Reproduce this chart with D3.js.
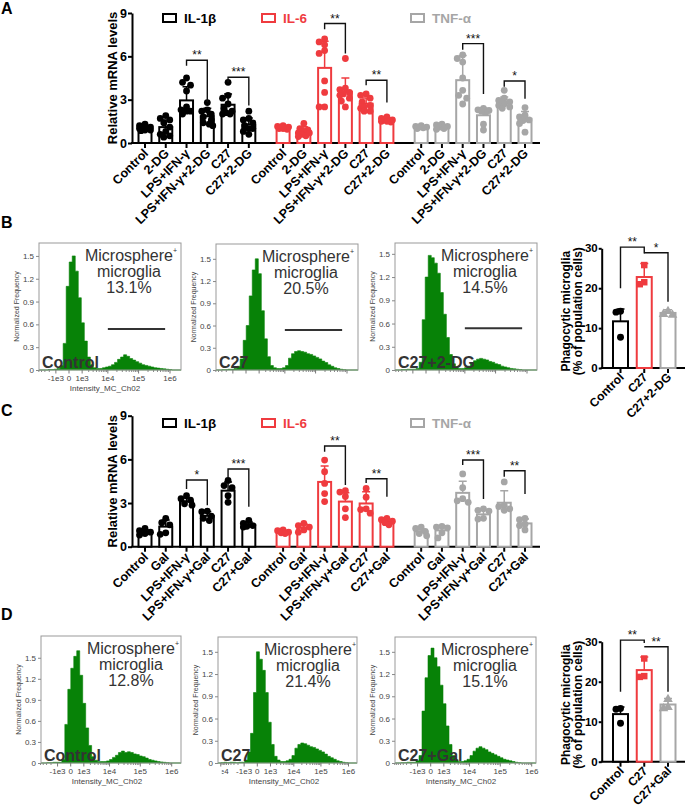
<!DOCTYPE html>
<html><head><meta charset="utf-8">
<script src="https://cdn.jsdelivr.net/npm/d3@7"></script>
<style>body{margin:0;background:#fff}svg{display:block}text{font-family:"Liberation Sans",Arial,Helvetica,sans-serif}</style>
</head><body><svg id="c" width="685" height="807"></svg>
<script>
// ---------------- DATA ----------------
const genes = ["IL-1β","IL-6","TNF-α"];
const catsA = ["Control","2-DG","LPS+IFN-γ","LPS+IFN-γ+2-DG","C27","C27+2-DG"];
const catsC = ["Control","Gal","LPS+IFN-γ","LPS+IFN-γ+Gal","C27","C27+Gal"];
const exprTicks = [0,3,6,9];

// Panel A
const aIL1bMean=[1.0,1.1,2.95,1.85,2.65,1.28];
const aIL1bSD=[0.15,0.5,0.95,0.55,0.75,0.45];
const aIL1bPts=[[1.3,1.2,1.1,1.0,1.0,0.9,0.9,0.85,1.05],[1.9,1.7,1.6,1.4,1.1,0.8,0.6,0.5,0.4],[4.5,4.2,4.0,3.6,2.5,2.3,2.2,2.0,2.2],[2.8,2.3,2.2,2.0,1.8,1.6,1.4,1.2,1.3],[4.2,3.3,3.1,2.7,2.4,2.2,2.0,2.1,2.0],[2.2,1.7,1.6,1.4,1.2,1.0,0.8,0.6,1.0]];
const aIL1bSig=[[2,3,"**",5.73,5.35,2.85],[4,5,"***",4.55,4.2,2.6]];
const aIL6Mean=[1.05,0.78,5.2,3.55,2.72,1.58];
const aIL6SD=[0.12,0.35,1.85,0.95,0.4,0.12];
const aIL6Pts=[[1.2,1.15,1.1,1.05,1.0,0.95,1.0,1.1],[1.35,1.0,0.9,0.8,0.7,0.6,0.5,0.45,0.7],[7.2,7.0,6.8,6.4,6.2,4.3,3.5,2.5,2.5],[5.85,3.8,3.7,3.4,3.1,2.9,2.5,3.3,3.5],[3.4,3.3,3.1,2.85,2.6,2.4,2.2,2.5,2.2],[1.8,1.7,1.6,1.55,1.5,1.45,1.6,1.5]];
const aIL6Sig=[[2,3,"**",8.27,7.87,6.2],[4,5,"**",4.34,4.0,2.8]];
const aTNFMean=[1.1,1.12,4.35,1.92,2.84,1.68];
const aTNFSD=[0.1,0.15,1.7,0.5,0.35,0.5];
const aTNFPts=[[1.2,1.15,1.1,1.05,1.0,1.1],[1.3,1.25,1.15,1.1,1.0,0.95],[6.1,5.85,5.6,4.5,3.65,3.1,2.7,3.3],[2.4,2.3,2.25,2.1,1.3,0.9,2.2],[3.65,3.1,2.95,2.85,2.7,2.6,2.5,2.4],[2.45,1.92,1.8,1.6,1.55,1.35,0.75]];
const aTNFSig=[[2,3,"***",6.88,6.45,3.4],[4,5,"*",4.29,3.9,3.07]];

// Panel C
const cIL1bMean=[1.0,1.38,3.1,2.12,3.85,1.5];
const cIL1bSD=[0.15,0.45,0.25,0.3,0.6,0.2];
const cIL1bPts=[[1.25,1.1,1.0,0.9,0.8],[1.95,1.65,1.5,0.85,0.95],[3.5,3.3,3.2,2.95,2.85],[2.45,2.4,2.1,1.95,1.8],[4.55,4.2,4.05,3.5,3.05],[1.8,1.6,1.45,1.4,1.35]];
const cIL1bSig=[[2,3,"*",4.58,3.96,2.85],[4,5,"***",5.34,4.72,2.75]];
const cIL6Mean=[1.02,1.3,4.45,3.1,2.97,1.72];
const cIL6SD=[0.1,0.25,1.1,0.6,0.8,0.12];
const cIL6Pts=[[1.15,1.1,1.0,0.95,0.9],[1.6,1.45,1.35,1.15,1.0],[5.95,5.15,4.35,3.65,3.1],[3.85,3.75,3.45,2.6,2.0],[4.0,3.4,2.6,2.55,2.3],[1.95,1.85,1.75,1.65,1.5]];
const cIL6Sig=[[2,3,"**",6.92,6.53,4.24],[4,5,"**",4.67,4.38,3.44]];
const cTNFMean=[1.05,1.12,3.7,2.22,3.02,1.6];
const cTNFSD=[0.15,0.3,0.8,0.3,0.82,0.3];
const cTNFPts=[[1.35,1.25,1.05,0.9,0.75],[1.4,1.35,1.3,0.95,0.6],[5.0,4.05,3.3,3.15,3.05],[2.6,2.5,2.45,1.95,1.9],[4.45,2.85,2.75,2.6,2.5],[1.95,1.85,1.55,1.45,1.15]];
const cTNFSig=[[2,3,"***",5.96,5.61,3.28],[4,5,"**",5.22,4.81,3.62]];

// Phagocytosis bar charts (B, D)
const phagoTicks=[0,10,20,30];
const bCats=["Control","C27","C27+2-DG"];
const bMean=[11.7,22.8,13.8];
const bSD=[3.1,3.4,0.8];
const bPts=[[14.2,14.0,7.7],[25.8,21.5,21.0],[14.2,13.5,13.3]];
const bSig=[[0,1,"**",30.3,20.0,28.7],[1,2,"*",28.9,28.9,16.6]];
const dCats=["Control","C27","C27+Gal"];
const dMean=[11.9,22.9,14.3];
const dSD=[1.8,3.3,1.5];
const dPts=[[13.3,13.1,9.6],[25.8,21.4,21.2],[15.6,13.6,13.3]];
const dSig=[[0,1,"**",30.4,17.5,29.7],[1,2,"**",28.75,28.75,17.5]];

// Histograms (normalized frequency per display channel bin)
const histYTicks=[0,0.3,0.6,0.9,1.2,1.5];
const histXTicks=[-1e4,-1e3,0,1e3,1e4,1e5,1e6];
const histXLabels=["-1e4","-1e3","0","1e3","1e4","1e5","1e6"];
const histB1=[0,0,0,0.005,0.005,0.01,0.02,0.06,0.35,1.1,1.42,1.5,1.3,0.95,0.62,0.38,0.17,0.07,0.03,0.02,0.02,0.03,0.04,0.05,0.07,0.1,0.14,0.17,0.2,0.18,0.15,0.13,0.11,0.09,0.07,0.06,0.05,0.04,0.03,0.025,0.02,0.015,0.01,0.005,0,0,0];
const histB2=[0,0,0.005,0.005,0.01,0.01,0.02,0.05,0.15,0.4,0.6,1.0,1.35,1.5,1.3,0.8,0.42,0.18,0.06,0.03,0.02,0.02,0.03,0.06,0.16,0.22,0.25,0.26,0.25,0.24,0.22,0.21,0.19,0.17,0.15,0.12,0.1,0.07,0.05,0.03,0.02,0.01,0.005,0,0,0,0];
const histB3=[0,0,0.005,0.005,0.01,0.01,0.01,0.02,0.1,0.65,1.2,1.48,1.45,1.38,1.25,1.0,0.72,0.42,0.2,0.08,0.03,0.02,0.02,0.03,0.05,0.09,0.12,0.14,0.15,0.14,0.13,0.11,0.1,0.08,0.07,0.05,0.04,0.03,0.02,0.015,0.01,0.005,0,0,0,0,0];
const histD1=[0,0,0.005,0.005,0.01,0.01,0.01,0.05,0.55,1.05,1.35,1.52,1.6,1.25,0.85,0.5,0.25,0.09,0.04,0.02,0.02,0.02,0.03,0.05,0.08,0.11,0.15,0.17,0.15,0.16,0.15,0.13,0.12,0.1,0.09,0.07,0.05,0.04,0.03,0.02,0.015,0.01,0.005,0,0,0,0];
const histD2=[0,0.005,0.01,0.005,0.01,0.01,0.005,0.01,0.01,0.04,0.15,0.4,0.95,1.5,1.4,1.25,0.95,0.55,0.25,0.09,0.04,0.02,0.02,0.03,0.05,0.1,0.2,0.25,0.27,0.26,0.24,0.22,0.21,0.19,0.17,0.15,0.12,0.09,0.07,0.05,0.03,0.02,0.01,0.005,0,0,0];
const histD3=[0,0,0.005,0.005,0.01,0.01,0.01,0.03,0.1,0.7,1.15,1.45,1.55,1.42,1.3,1.05,0.8,0.5,0.25,0.1,0.04,0.02,0.02,0.03,0.05,0.1,0.16,0.2,0.22,0.2,0.18,0.15,0.13,0.11,0.09,0.07,0.05,0.04,0.03,0.02,0.01,0.005,0,0,0,0,0];
const histNames=["Control","C27","C27+2-DG","Control","C27","C27+Gal"];
const histPct=["13.1%","20.5%","14.5%","12.8%","21.4%","15.1%"];
const gateB=[1e4,7e5,0.54];

// ---------------- DRAWING ----------------
const svg=d3.select("#c");
const BLACK="#000",RED="#ef3b3f",GRAY="#a6a6a6",GREEN="#078207",DARK="#333";
const GSPAN=6.65;
const L={axisX:132,xFirst:145,xLast:525,xEnd:540,titleX:117,legendX:[163,262,411]};

function beeswarm(vals,y,minD,offs){
  const order=vals.map((v,i)=>({v,i})).sort((a,b)=>b.v-a.v);
  const placed=[],out=new Array(vals.length);
  order.forEach(o=>{
    const py=y(o.v);let best=null,bestD=-1;
    for(const dx of offs){
      let md=1e9;placed.forEach(p=>{md=Math.min(md,Math.hypot(p.dx-dx,p.py-py));});
      if(md>=minD){best=dx;break;}
      if(md>bestD){bestD=md;best=dx;}
    }
    placed.push({dx:best,py});out[o.i]=best;
  });
  return out;
}

function styleAxis(sel,size,w){
  sel.selectAll("text").attr("font-size",size).attr("font-weight","bold").attr("fill","#000");
  sel.selectAll("line").attr("stroke","#000").attr("stroke-width",w);
  sel.select(".domain").attr("stroke","#000").attr("stroke-width",w);
}

function drawBracket(g,x1,x2,y,top,l,r,s){
  g.append("path").attr("d",`M${x1},${y(l)}V${y(top)}H${x2}V${y(r)}`).attr("fill","none").attr("stroke","#111").attr("stroke-width",1.4);
  g.append("text").attr("x",(x1+x2)/2).attr("y",y(top)-1).attr("text-anchor","middle").attr("font-size",12).attr("fill","#111").text(s);
}

function exprPanel(P){
  const g=svg.append("g");
  const y=d3.scaleLinear().domain([0,9]).range([P.y0,P.y9]);
  const xs=d3.scaleLinear().domain([0,2*GSPAN+5]).range([L.xFirst,L.xLast]);
  const pos=(gi,ci)=>xs(gi*GSPAN+ci);
  const ya=g.append("g").attr("transform",`translate(${L.axisX},0)`)
    .call(d3.axisLeft(y).tickValues(exprTicks).tickSize(4).tickSizeOuter(0).tickPadding(1));
  styleAxis(ya,12.5,2);
  g.append("text").attr("transform",`translate(${L.titleX},${(P.y0+P.y9)/2}) rotate(-90)`)
    .attr("text-anchor","middle").attr("font-size",13).attr("font-weight","bold").text("Relative mRNA levels");
  g.append("line").attr("x1",L.axisX-1).attr("x2",L.xEnd).attr("y1",P.y0).attr("y2",P.y0).attr("stroke","#000").attr("stroke-width",2);
  P.series.forEach((s,gi)=>{
    const sg=g.append("g");
    sg.append("rect").attr("x",L.legendX[gi]).attr("y",P.legY-4).attr("width",13).attr("height",8).attr("fill","#fff").attr("stroke",s.color).attr("stroke-width",2);
    sg.append("text").attr("x",L.legendX[gi]+21).attr("y",P.legY+5).attr("font-size",13.5).attr("font-weight","bold").attr("fill",s.color).text(genes[gi]);
    sg.selectAll("line.tk").data(P.cats).join("line").attr("class","tk")
      .attr("x1",(d,i)=>pos(gi,i)).attr("x2",(d,i)=>pos(gi,i)).attr("y1",P.y0).attr("y2",P.y0+5).attr("stroke","#000").attr("stroke-width",2);
    sg.selectAll("text.cat").data(P.cats).join("text").attr("class","cat")
      .attr("transform",(d,i)=>`translate(${pos(gi,i)+4},${P.y0+11}) rotate(-45)`)
      .attr("text-anchor","end").attr("font-size",12.5).attr("font-weight","bold").text(d=>d);
    sg.selectAll("rect.bar").data(s.mean).join("rect").attr("class","bar")
      .attr("x",(d,i)=>pos(gi,i)-6.5).attr("width",13).attr("y",d=>y(d)).attr("height",d=>P.y0-y(d))
      .attr("fill","#fff").attr("stroke",s.color).attr("stroke-width",2);
    s.mean.forEach((m,i)=>{
      const x=pos(gi,i);
      sg.append("path").attr("d",`M${x},${y(m)}V${y(m+s.sd[i])}M${x-4},${y(m+s.sd[i])}H${x+4}`).attr("stroke",s.color).attr("stroke-width",1.5).attr("fill","none");
    });
    s.pts.forEach((arr,i)=>{
      const dx=beeswarm(arr,y,5.5,[0,-4,4,-2,2,-5.5,5.5]);
      sg.selectAll(null).data(arr).join("circle").attr("cx",(d,j)=>pos(gi,i)+dx[j]).attr("cy",d=>y(d)).attr("r",3.4).attr("fill",s.color);
    });
    s.sig.forEach(b=>drawBracket(sg,pos(gi,b[0]),pos(gi,b[1]),y,b[3],b[4],b[5],b[2]));
  });
}

function phagoPanel(P){
  const g=svg.append("g");
  const y=d3.scaleLinear().domain([0,30]).range([P.y0,P.y30]);
  const x=d3.scaleLinear().domain([0,2]).range([620.5,668]);
  const ya=g.append("g").attr("transform",`translate(${P.ax},0)`)
    .call(d3.axisLeft(y).tickValues(phagoTicks).tickSize(3).tickSizeOuter(0).tickPadding(1));
  styleAxis(ya,11.5,2);
  g.append("line").attr("x1",P.ax-1).attr("x2",685).attr("y1",P.y0).attr("y2",P.y0).attr("stroke","#000").attr("stroke-width",2);
  const tt=g.append("text").attr("transform",`translate(569.5,${(P.y0+P.y30)/2+3}) rotate(-90)`)
    .attr("text-anchor","middle").attr("font-size",12).attr("font-weight","bold");
  tt.append("tspan").attr("x",0).attr("dy",0).text("Phagocytic microglia");
  tt.append("tspan").attr("x",0).attr("dy",12.5).text("(% of population cells)");
  const cols=[BLACK,RED,GRAY];
  const shapes=[d3.symbolCircle,d3.symbolSquare,d3.symbolTriangle];
  g.selectAll("line.tk").data(P.cats).join("line").attr("x1",(d,i)=>x(i)).attr("x2",(d,i)=>x(i)).attr("y1",P.y0).attr("y2",P.y0+5).attr("stroke","#000").attr("stroke-width",2);
  g.selectAll("text.cat").data(P.cats).join("text").attr("class","cat")
    .attr("transform",(d,i)=>`translate(${x(i)+4},${P.y0+10}) rotate(-45)`)
    .attr("text-anchor","end").attr("font-size",12).attr("font-weight","bold").text(d=>d);
  g.selectAll("rect.bar").data(P.mean).join("rect").attr("x",(d,i)=>x(i)-7.5).attr("width",15)
    .attr("y",d=>y(d)).attr("height",d=>P.y0-y(d)).attr("fill","#fff").attr("stroke",(d,i)=>cols[i]).attr("stroke-width",2);
  P.mean.forEach((m,i)=>{
    g.append("path").attr("d",`M${x(i)},${y(m)}V${y(m+P.sd[i])}M${x(i)-4},${y(m+P.sd[i])}H${x(i)+4}`).attr("stroke",cols[i]).attr("stroke-width",1.5).attr("fill","none");
    const dx=beeswarm(P.pts[i],y,6,[0,-4.5,4.5,-2.5,2.5]);
    g.selectAll(null).data(P.pts[i]).join("path").attr("d",d3.symbol(shapes[i],i==2?40:(i==1?42:38)))
      .attr("transform",(d,j)=>`translate(${x(i)+dx[j]},${y(d)})`).attr("fill",cols[i]);
  });
  P.sig.forEach(b=>drawBracket(g,x(b[0]),x(b[1]),y,b[3],b[4],b[5],b[2]));
}

function histPanel(H){
  const g=svg.append("g");
  const right=H.left+H.w,bottom=H.top+H.h;
  const y=d3.scaleLinear().domain([0,H.ymax]).range([bottom,H.top]);
  const xb=d3.scaleLinear().domain([0,H.bins.length]).range([H.left,H.left+H.w]);
  const area=d3.area().curve(d3.curveStepAfter).x((d,i)=>xb(i)).y0(bottom).y1(d=>y(d));
  g.append("path").attr("d",area(H.bins.concat([0]))).attr("fill",GREEN).attr("stroke",GREEN).attr("stroke-width",0.6);
  g.append("rect").attr("x",H.left).attr("y",H.top).attr("width",H.w).attr("height",H.h).attr("fill","none").attr("stroke","#999").attr("stroke-width",1);
  const ya=g.append("g").attr("transform",`translate(${H.left},0)`)
    .call(d3.axisLeft(y).tickValues(histYTicks).tickSize(3).tickPadding(2).tickFormat(d=>d===0?"0":d3.format(".1f")(d)));
  ya.select(".domain").remove();
  ya.selectAll("line").attr("stroke","#888");
  ya.selectAll("text").attr("font-size",8).attr("fill","#444");
  g.append("text").attr("transform",`translate(${H.left-20},${(H.top+bottom)/2}) rotate(-90)`).attr("text-anchor","middle").attr("font-size",7).attr("fill","#444").text("Normalized Frequency");
  const xs=d3.scaleSymlog().constant(H.c).domain([0,1e6]).range([H.left+H.zero,H.left+H.zero+H.span]);
  const inF=v=>xs(v)>=H.left-0.5&&xs(v)<=right+0.5;
  const minors=[];
  [3,4,5].forEach(k=>{for(let m=2;m<=9;m++){minors.push(m*Math.pow(10,k));}});
  for(let m=2;m<=9;m++)minors.push(-m*1e3);
  g.selectAll("line.mn").data(minors.filter(inF)).join("line").attr("x1",d=>xs(d)).attr("x2",d=>xs(d)).attr("y1",bottom).attr("y2",bottom+2).attr("stroke","#888");
  const majIdx=histXTicks.map((v,i)=>i).filter(i=>inF(histXTicks[i]));
  g.selectAll("line.mj").data(majIdx).join("line").attr("x1",i=>xs(histXTicks[i])).attr("x2",i=>xs(histXTicks[i])).attr("y1",bottom).attr("y2",bottom+3.5).attr("stroke","#777");
  if(H.labels){
    const lg=g.append("g");
    if(H.clip){
      const id="cl"+H.left;
      svg.append("clipPath").attr("id",id).append("rect").attr("x",xs(-1e4)+1).attr("y",bottom).attr("width",H.w+20).attr("height",20);
      lg.attr("clip-path",`url(#${id})`);
    }
    lg.selectAll("text").data(majIdx).join("text").attr("x",i=>xs(histXTicks[i])).attr("y",bottom+11).attr("text-anchor","middle").attr("font-size",8).attr("fill","#444").text(i=>histXLabels[i]);
    g.append("text").attr("x",H.left+66).attr("y",bottom+21).attr("text-anchor","middle").attr("font-size",8).attr("fill","#444").text("Intensity_MC_Ch02");
  }
  const t=g.append("g").attr("fill",DARK);
  const t1=t.append("text").attr("x",H.left+92).attr("y",H.top+18).attr("text-anchor","middle").attr("font-size",16);
  t1.append("tspan").text("Microsphere");
  t1.append("tspan").attr("font-size",7).attr("dy",-8).text("+");
  t.append("text").attr("x",H.left+90).attr("y",H.top+34).attr("text-anchor","middle").attr("font-size",16).text("microglia");
  t.append("text").attr("x",H.left+90).attr("y",H.top+50).attr("text-anchor","middle").attr("font-size",16).text(H.pct);
  if(H.gate){
    g.append("line").attr("x1",xs(H.gate[0])).attr("x2",xs(H.gate[1])).attr("y1",y(H.gate[2])).attr("y2",y(H.gate[2])).attr("stroke","#333").attr("stroke-width",2);
  }
  g.append("text").attr("x",H.left+3).attr("y",bottom-2).attr("font-size",16).attr("font-weight","bold").attr("fill",DARK).text(H.name);
}

// panel letters
[["A",14],["B",228],["C",416],["D",620]].forEach(p=>svg.append("text").attr("x",1).attr("y",p[1]).attr("font-size",16).attr("font-weight","bold").text(p[0]));

exprPanel({y0:143,y9:13,legY:18,cats:catsA,series:[
  {color:BLACK,mean:aIL1bMean,sd:aIL1bSD,pts:aIL1bPts,sig:aIL1bSig},
  {color:RED,mean:aIL6Mean,sd:aIL6SD,pts:aIL6Pts,sig:aIL6Sig},
  {color:GRAY,mean:aTNFMean,sd:aTNFSD,pts:aTNFPts,sig:aTNFSig}]});
exprPanel({y0:546.7,y9:415.7,legY:423,cats:catsC,series:[
  {color:BLACK,mean:cIL1bMean,sd:cIL1bSD,pts:cIL1bPts,sig:cIL1bSig},
  {color:RED,mean:cIL6Mean,sd:cIL6SD,pts:cIL6Pts,sig:cIL6Sig},
  {color:GRAY,mean:cTNFMean,sd:cTNFSD,pts:cTNFPts,sig:cTNFSig}]});

const hist=[histB1,histB2,histB3,histD1,histD2,histD3];
const HL=[
  {left:39,top:243,w:142,h:127,ymax:1.67,zero:30,c:620,span:101,labels:true,gate:true},
  {left:216,top:244,w:142,h:126,ymax:1.70,zero:30,c:620,span:101,labels:false,gate:true},
  {left:395,top:243,w:142,h:127,ymax:1.64,zero:31,c:620,span:101,labels:false,gate:true},
  {left:41,top:636,w:140,h:127,ymax:1.81,zero:29.7,c:620,span:101,labels:true,gate:false},
  {left:218,top:637,w:139,h:126,ymax:1.70,zero:39.3,c:500,span:91.2,labels:true,gate:false,clip:true},
  {left:395,top:637,w:141,h:126,ymax:1.70,zero:35.7,c:620,span:101,labels:true,gate:false}];
HL.forEach((h,i)=>histPanel(Object.assign({},h,{bins:hist[i],name:histNames[i],pct:histPct[i],gate:h.gate?gateB:null})));

phagoPanel({ax:601.7,y0:368,y30:248.3,cats:bCats,mean:bMean,sd:bSD,pts:bPts,sig:bSig});
phagoPanel({ax:601.7,y0:761.7,y30:641.7,cats:dCats,mean:dMean,sd:dSD,pts:dPts,sig:dSig});
</script></body></html>
